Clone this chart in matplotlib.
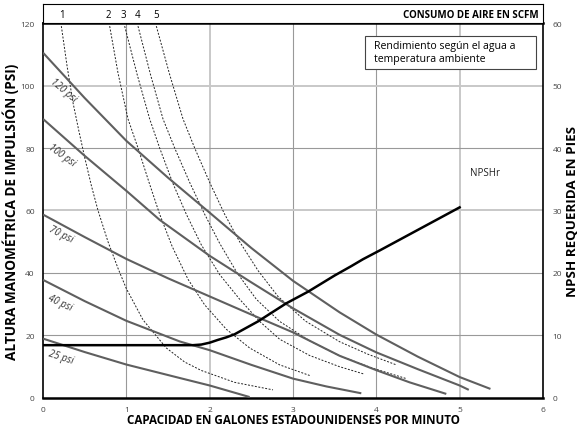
import numpy as np
import matplotlib.pyplot as plt
from matplotlib.patches import Rectangle

plt.rcParams['font.family'] = ['Open Sans', 'DejaVu Sans']

# pump curves (gpm, psi)
x_120 = [0, 0.5, 1, 1.5, 2, 2.5, 3, 3.56, 4, 4.5, 5, 5.37]
y_120 = [110.5, 96, 82.3, 70.5, 59.3, 48, 37.5, 27.4, 20.3, 13.2, 6.7, 2.9]
x_100 = [0, 0.5, 1, 1.4, 2, 2.5, 3, 3.56, 4, 4.5, 5, 5.11]
y_100 = [89.3, 77.5, 66.3, 57, 45.5, 37, 28.7, 20.2, 14.6, 9.2, 4.0, 2.6]
x_70 = [0, 0.5, 1, 1.5, 2, 2.5, 3, 3.56, 4, 4.4, 4.84]
y_70 = [58.7, 51.5, 44.5, 38.3, 32.5, 26.7, 21, 13.5, 8.9, 5.0, 1.3]
x_40 = [0, 0.5, 1, 1.64, 2, 2.5, 3, 3.4, 3.82]
y_40 = [37.8, 31, 24.7, 18.1, 15.3, 10.6, 6.2, 3.7, 1.5]
x_25 = [0, 0.5, 1, 1.64, 2, 2.48]
y_25 = [19, 14.7, 10.7, 6.4, 4.0, 0.3]

pump_x = [x_25, x_40, x_70, x_100, x_120]
pump_y = [y_25, y_40, y_70, y_100, y_120]
psi_labels = ['25 psi', '40 psi', '70 psi', '100 psi', '120 psi']

# air consumption curves (SCFM)
air_x = [
    [0.22, 0.29, 0.36, 0.43, 0.5, 0.58, 0.66, 0.78, 0.9, 1.0, 1.2, 1.48, 1.7, 1.9, 2.3, 2.76],
    [0.80, 0.9, 1.02, 1.14, 1.27, 1.40, 1.55, 1.74, 1.94, 2.2, 2.48, 2.84, 3.2],
    [0.98, 1.13, 1.28, 1.40, 1.56, 1.72, 1.9, 2.12, 2.36, 2.6, 2.84, 3.2, 3.56, 3.86],
    [1.14, 1.29, 1.44, 1.58, 1.76, 1.94, 2.12, 2.33, 2.56, 2.84, 3.2, 3.56, 3.95, 4.36],
    [1.36, 1.52, 1.68, 1.82, 2.0, 2.18, 2.36, 2.58, 2.82, 3.15, 3.56, 3.9, 4.24],
]
air_y = [
    [119, 106, 94.5, 85.5, 77, 68, 60, 50, 41.5, 35, 25, 16, 11.5, 8.8, 5, 2.6],
    [119, 104, 89.3, 80, 69.2, 58.8, 48.5, 38, 29.8, 22, 16, 10.6, 7.2],
    [119, 103.5, 89.3, 80, 68.6, 58.8, 49, 39.5, 31.6, 24.5, 18.8, 13.6, 10, 7.6],
    [119, 103.5, 89.3, 80, 69, 58.8, 49.5, 40, 31.6, 24.5, 18.3, 13.5, 9.6, 6.2],
    [119, 103.5, 89.3, 80, 69, 58.8, 50, 40.8, 32.5, 24.6, 18, 14, 10.6],
]
air_labels = ['1', '2', '3', '4', '5']
air_label_x = [0.23, 0.78, 0.96, 1.13, 1.36]

# NPSHr (ft, right axis)
npsh_x = [0, 1.8, 1.9, 2.0, 2.1, 2.2, 2.3, 2.58, 2.92, 3.18, 3.5, 3.7, 3.84, 4.04, 5.0]
npsh_y = [8.45, 8.45, 8.55, 8.85, 9.3, 9.7, 10.2, 12.25, 15.15, 17.0, 19.6, 21.1, 22.2, 23.6, 30.5]

fig = plt.figure(figsize=(5.82, 4.35), dpi=100)
ax = fig.add_axes([0.0739, 0.0828, 0.859, 0.862])

for xv in range(1, 6):
    if xv in (2, 5):
        ax.axvline(xv, color='#c8c8c8', lw=1.4, zorder=0)
    else:
        ax.axvline(xv, color='#999999', lw=0.8, zorder=0)
for yv in range(20, 120, 20):
    if yv in (60, 100):
        ax.axhline(yv, color='#c8c8c8', lw=1.4, zorder=0)
    else:
        ax.axhline(yv, color='#999999', lw=0.8, zorder=0)

for xs, ys in zip(pump_x, pump_y):
    ax.plot(xs, ys, color='#5f5f5f', lw=1.5, zorder=3, solid_capstyle='butt')

for xs, ys in zip(air_x, air_y):
    ax.plot(xs, ys, color='#222222', lw=0.7, ls=(0, (2, 1.6)), zorder=2)

# psi labels
lab_pos = [(0.22, 13.2, -18), (0.2, 30.5, -25), (0.21, 52.5, -27), (0.23, 77.8, -36), (0.25, 98.5, -40)]
for (lx, ly, rot), t in zip(lab_pos, psi_labels):
    ax.text(lx, ly, t, fontsize=7, style='italic', rotation=rot, color='#333333',
            ha='center', va='center', zorder=4)

ax.set_xlim(0, 6)
ax.set_ylim(0, 120)
ax.set_xticks(range(0, 7))
ax.set_yticks(range(0, 121, 20))
ax.tick_params(length=0, labelsize=6, labelcolor='#444444', pad=6)
for s in ['left', 'right']:
    ax.spines[s].set_linewidth(1.2)
ax.spines['bottom'].set_linewidth(1.8)
ax.spines['top'].set_linewidth(1.8)
ax.set_xlabel('CAPACIDAD EN GALONES ESTADOUNIDENSES POR MINUTO', fontsize=8.4,
              fontweight='bold', labelpad=0)
ax.set_ylabel('ALTURA MANOMÉTRICA DE IMPULSIÓN (PSI)', fontsize=9.8,
              fontweight='bold', labelpad=1)

ax2 = ax.twinx()
ax2.plot(npsh_x, npsh_y, color='black', lw=1.8, zorder=5)
ax2.set_ylim(0, 60)
ax2.set_yticks(range(0, 61, 10))
ax2.tick_params(length=0, labelsize=6, labelcolor='#444444', pad=7)
ax2.set_ylabel('NPSH REQUERIDA EN PIES', fontsize=9.6, fontweight='bold', labelpad=3)
ax2.text(5.12, 36, 'NPSHr', fontsize=7, color='#222222', ha='left', va='center')
for s in ax2.spines.values():
    s.set_visible(False)

ax.add_patch(Rectangle((3.86, 105.4), 2.06, 10.6, facecolor='white', edgecolor='#444444',
                       lw=0.8, zorder=6))
ax.text(3.97, 110.8, 'Rendimiento según el agua a\ntemperatura ambiente', fontsize=7.6,
        ha='left', va='center', linespacing=1.3, zorder=7)

# band above for air consumption labels
band = fig.add_axes([0.0739, 0.9448, 0.859, 0.0437])
band.set_xlim(0, 6)
band.set_ylim(0, 1)
band.set_xticks([])
band.set_yticks([])
for s in band.spines.values():
    s.set_linewidth(0.8)
for lx, t in zip(air_label_x, air_labels):
    band.text(lx, 0.45, t, fontsize=7, ha='center', va='center')
band.text(5.95, 0.45, 'CONSUMO DE AIRE EN SCFM', fontsize=7, fontweight='bold',
          ha='right', va='center')

fig.savefig('out.png', dpi=100)
